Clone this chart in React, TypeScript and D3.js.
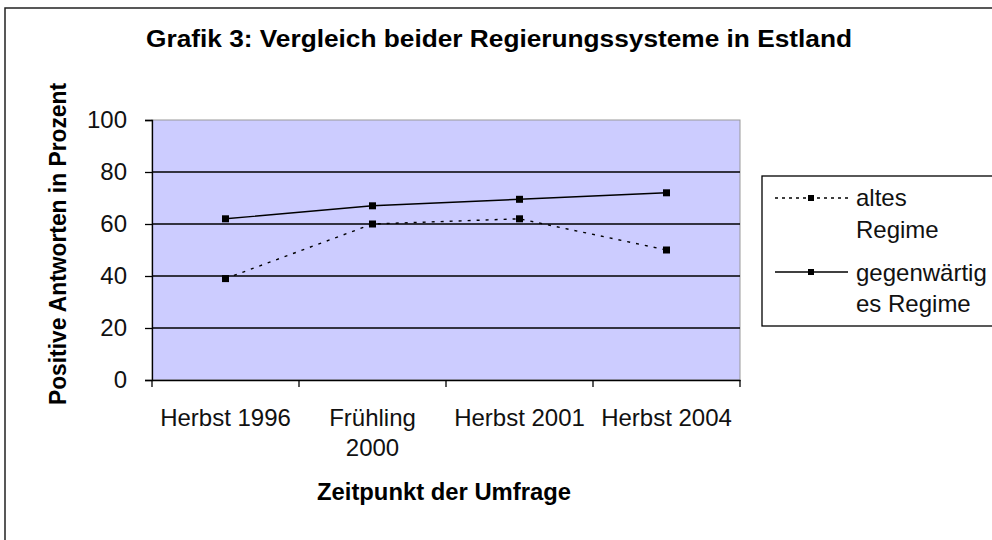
import React, { useRef, useEffect } from "react";
import * as d3 from "d3";

const categories = ["Herbst 1996", "Frühling 2000", "Herbst 2001", "Herbst 2004"];
const categoryLines = [["Herbst 1996"], ["Frühling", "2000"], ["Herbst 2001"], ["Herbst 2004"]];
const altesRegime = [39, 60, 62, 50];
const gegenwaertigesRegime = [62, 67, 69.5, 72];
const yTicks = [0, 20, 40, 60, 80, 100];
const legendLabels = [["altes", "Regime"], ["gegenwärtig", "es Regime"]];

const FONT = "'Liberation Sans', Arial, sans-serif";

const App = () => {
  const svgRef = useRef<SVGSVGElement | null>(null);

  useEffect(() => {
    const svg = d3.select(svgRef.current);
    svg.selectAll("*").remove();

    const plot = { left: 152, right: 740, top: 120, bottom: 380 };

    // outer chart frame
    svg
      .append("rect")
      .attr("x", 5)
      .attr("y", 8)
      .attr("width", 1000)
      .attr("height", 600)
      .attr("fill", "white")
      .attr("stroke", "#222")
      .attr("stroke-width", 1.5);

    svg
      .append("text")
      .attr("x", 499)
      .attr("y", 47)
      .attr("text-anchor", "middle")
      .attr("font-family", FONT)
      .attr("font-weight", "bold")
      .attr("font-size", 23)
      .attr("textLength", 706)
      .attr("lengthAdjust", "spacingAndGlyphs")
      .text("Grafik 3: Vergleich beider Regierungssysteme in Estland");

    const x = d3
      .scaleBand()
      .domain(categories)
      .range([plot.left, plot.right]);

    const y = d3
      .scaleLinear()
      .domain([0, 100])
      .range([plot.bottom, plot.top]);

    // plot area
    svg
      .append("rect")
      .attr("x", plot.left)
      .attr("y", plot.top)
      .attr("width", plot.right - plot.left)
      .attr("height", plot.bottom - plot.top)
      .attr("fill", "#CCCCFF")
      .attr("stroke", "#999")
      .attr("stroke-width", 1);

    // gridlines
    svg
      .append("g")
      .selectAll("line")
      .data(yTicks.filter((t) => t > 0 && t < 100))
      .enter()
      .append("line")
      .attr("x1", plot.left)
      .attr("x2", plot.right)
      .attr("y1", (d) => y(d))
      .attr("y2", (d) => y(d))
      .attr("stroke", "#000")
      .attr("stroke-width", 1.3);

    // y axis
    const yAxis = svg
      .append("g")
      .attr("transform", `translate(${plot.left},0)`)
      .call(d3.axisLeft(y).tickValues(yTicks).tickSize(7).tickPadding(18));
    yAxis.select(".domain").attr("stroke", "#000").attr("stroke-width", 1.3);
    yAxis.selectAll(".tick line").attr("stroke-width", 1.3);
    yAxis
      .selectAll(".tick text")
      .attr("font-family", FONT)
      .attr("font-size", 24)
      .attr("fill", "#111");

    // x axis
    const xAxis = svg
      .append("g")
      .attr("transform", `translate(0,${plot.bottom})`)
      .call(d3.axisBottom(x).tickSize(0).tickFormat(() => ""));
    xAxis.select(".domain").attr("stroke", "#000").attr("stroke-width", 1.3);
    xAxis
      .selectAll(".bound")
      .data([...categories.map((c) => x(c) as number), plot.right])
      .enter()
      .append("line")
      .attr("x1", (d) => d)
      .attr("x2", (d) => d)
      .attr("y1", 0)
      .attr("y2", 7)
      .attr("stroke", "#000")
      .attr("stroke-width", 1.3);

    const xLabels = svg.append("g");
    categories.forEach((c, i) => {
      const t = xLabels
        .append("text")
        .attr("x", (x(c) as number) + x.bandwidth() / 2)
        .attr("y", 426)
        .attr("text-anchor", "middle")
        .attr("font-family", FONT)
        .attr("font-size", 24)
        .attr("fill", "#111");
      categoryLines[i].forEach((line, j) => {
        t.append("tspan")
          .attr("x", (x(c) as number) + x.bandwidth() / 2)
          .attr("dy", j === 0 ? 0 : 30)
          .text(line);
      });
    });

    // axis titles
    svg
      .append("text")
      .attr("x", 444)
      .attr("y", 500)
      .attr("text-anchor", "middle")
      .attr("font-family", FONT)
      .attr("font-weight", "bold")
      .attr("font-size", 23)
      .attr("textLength", 254)
      .attr("lengthAdjust", "spacingAndGlyphs")
      .text("Zeitpunkt der Umfrage");

    svg
      .append("text")
      .attr("transform", `translate(66,244) rotate(-90)`)
      .attr("text-anchor", "middle")
      .attr("font-family", FONT)
      .attr("font-weight", "bold")
      .attr("font-size", 23)
      .attr("textLength", 322)
      .attr("lengthAdjust", "spacingAndGlyphs")
      .text("Positive Antworten in Prozent");

    const cx = (i: number) => (x(categories[i]) as number) + x.bandwidth() / 2;
    const line = d3
      .line<number>()
      .x((_, i) => cx(i))
      .y((d) => y(d));

    const series = [
      { values: altesRegime, dash: "3,6" },
      { values: gegenwaertigesRegime, dash: null },
    ];

    series.forEach((s) => {
      svg
        .append("path")
        .datum(s.values)
        .attr("d", line)
        .attr("fill", "none")
        .attr("stroke", "#000")
        .attr("stroke-width", 1.4)
        .attr("stroke-dasharray", s.dash);
      svg
        .append("g")
        .selectAll("rect")
        .data(s.values)
        .enter()
        .append("rect")
        .attr("x", (_, i) => cx(i) - 3.5)
        .attr("y", (d) => y(d) - 3.5)
        .attr("width", 7)
        .attr("height", 7)
        .attr("fill", "#000");
    });

    // legend
    const legend = svg.append("g");
    legend
      .append("rect")
      .attr("x", 762)
      .attr("y", 176)
      .attr("width", 260)
      .attr("height", 150)
      .attr("fill", "white")
      .attr("stroke", "#000")
      .attr("stroke-width", 1.3);

    const legendRows = [198, 272];
    const legendBaselines = [[206, 238], [281, 312]];
    series.forEach((s, i) => {
      const ly = legendRows[i];
      legend
        .append("line")
        .attr("x1", 775)
        .attr("x2", 848)
        .attr("y1", ly)
        .attr("y2", ly)
        .attr("stroke", "#000")
        .attr("stroke-width", 1.4)
        .attr("stroke-dasharray", s.dash ? "3,4" : null);
      legend
        .append("rect")
        .attr("x", 808)
        .attr("y", ly - 3)
        .attr("width", 6)
        .attr("height", 6)
        .attr("fill", "#000");
      legendLabels[i].forEach((txt, j) => {
        legend
          .append("text")
          .attr("x", 856)
          .attr("y", legendBaselines[i][j])
          .attr("font-family", FONT)
          .attr("font-size", 24)
          .attr("fill", "#111")
          .text(txt);
      });
    });
  }, []);

  return (
    <div style={{ position: "absolute", left: 0, top: 0 }}>
      <svg ref={svgRef} width={992} height={540} style={{ display: "block" }}></svg>
    </div>
  );
};

export default App;
